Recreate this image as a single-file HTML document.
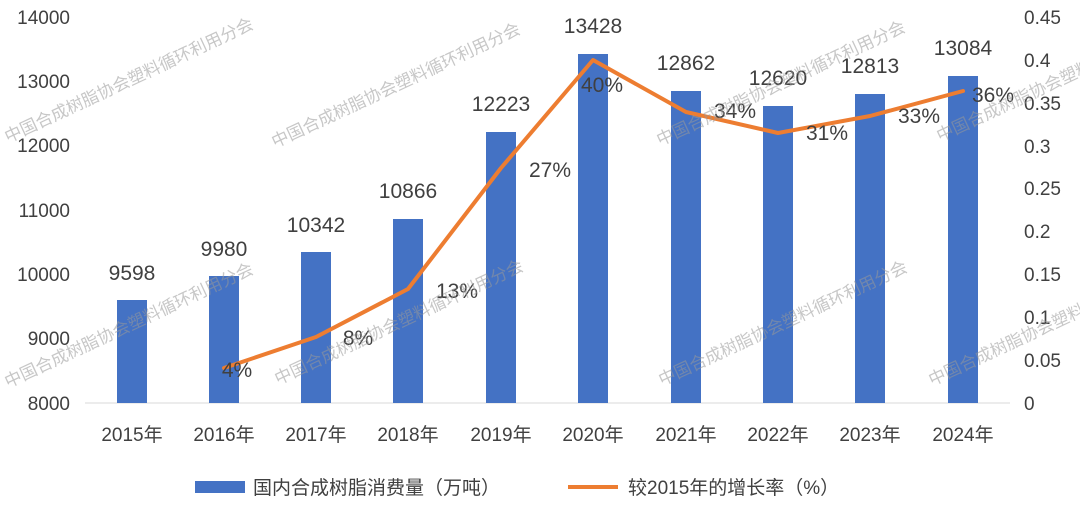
<!DOCTYPE html>
<html><head><meta charset="utf-8"><style>
body{margin:0;background:#fff;}
svg{display:block;font-family:"Liberation Sans","Noto Sans CJK SC",sans-serif;}
</style></head><body>
<svg width="1080" height="509" viewBox="0 0 1080 509">
<g font-size="19" fill="#404040">
<text x="70" y="24" text-anchor="end">14000</text>
<text x="70" y="88" text-anchor="end">13000</text>
<text x="70" y="152" text-anchor="end">12000</text>
<text x="70" y="217" text-anchor="end">11000</text>
<text x="70" y="281" text-anchor="end">10000</text>
<text x="70" y="345" text-anchor="end">9000</text>
<text x="70" y="410" text-anchor="end">8000</text>
<g text-anchor="start">
<text x="1024" y="24">0.45</text><text x="1024" y="67">0.4</text><text x="1024" y="110">0.35</text>
<text x="1024" y="153">0.3</text><text x="1024" y="195">0.25</text><text x="1024" y="238">0.2</text>
<text x="1024" y="281">0.15</text><text x="1024" y="324">0.1</text><text x="1024" y="367">0.05</text>
<text x="1024" y="410">0</text></g>
</g>
<line x1="85" y1="403" x2="1010" y2="403" stroke="#d9d9d9" stroke-width="1"/>
<g fill="#4472c4">
<rect x="117" y="300" width="30" height="103"/>
<rect x="209" y="276" width="30" height="127"/>
<rect x="301" y="252" width="30" height="151"/>
<rect x="393" y="219" width="30" height="184"/>
<rect x="486" y="132" width="30" height="271"/>
<rect x="578" y="54" width="30" height="349"/>
<rect x="671" y="91" width="30" height="312"/>
<rect x="763" y="106" width="30" height="297"/>
<rect x="855" y="94" width="30" height="309"/>
<rect x="948" y="76" width="30" height="327"/>
</g>
<polyline points="224,368 316,337 408,289 501,168 593,60 686,112 778,133 870,116 963,91" fill="none" stroke="#ed7d31" stroke-width="4" stroke-linejoin="round" stroke-linecap="round"/>
<g font-size="21" fill="#404040" text-anchor="middle">
<text x="132" y="280">9598</text><text x="224" y="256">9980</text><text x="316" y="232">10342</text>
<text x="408" y="198">10866</text><text x="501" y="111">12223</text><text x="593" y="33">13428</text>
<text x="686" y="70">12862</text><text x="778" y="85">12620</text><text x="870" y="73">12813</text>
<text x="963" y="55">13084</text>
<text x="237" y="377">4%</text><text x="358" y="345">8%</text><text x="457" y="298">13%</text>
<text x="550" y="177">27%</text><text x="602" y="92">40%</text><text x="735" y="118">34%</text>
<text x="827" y="140">31%</text><text x="919" y="123">33%</text><text x="993" y="102">36%</text>
</g>
<g font-size="19" fill="#404040" text-anchor="middle">
<text x="132" y="441">2015年</text><text x="224" y="441">2016年</text><text x="316" y="441">2017年</text>
<text x="408" y="441">2018年</text><text x="501" y="441">2019年</text><text x="593" y="441">2020年</text>
<text x="686" y="441">2021年</text><text x="778" y="441">2022年</text><text x="870" y="441">2023年</text>
<text x="963" y="441">2024年</text>
</g>
<rect x="195" y="481" width="50" height="12" fill="#4472c4"/>
<text x="253" y="494" font-size="19" fill="#404040">国内合成树脂消费量（万吨）</text>
<line x1="568" y1="487" x2="618" y2="487" stroke="#ed7d31" stroke-width="4"/>
<text x="628" y="494" font-size="19" fill="#404040">较2015年的增长率（%）</text>
<g font-size="17" fill="#999" opacity="0.55">
<text transform="translate(8,143) rotate(-25)">中国合成树脂协会塑料循环利用分会</text>
<text transform="translate(275,148) rotate(-25)">中国合成树脂协会塑料循环利用分会</text>
<text transform="translate(660,146) rotate(-25)">中国合成树脂协会塑料循环利用分会</text>
<text transform="translate(940,142) rotate(-25)">中国合成树脂协会塑料循环利用分会</text>
<text transform="translate(8,388) rotate(-25)">中国合成树脂协会塑料循环利用分会</text>
<text transform="translate(278,385) rotate(-25)">中国合成树脂协会塑料循环利用分会</text>
<text transform="translate(662,386) rotate(-25)">中国合成树脂协会塑料循环利用分会</text>
<text transform="translate(932,386) rotate(-25)">中国合成树脂协会塑料循环利用分会</text>
</g>
</svg>
</body></html>
